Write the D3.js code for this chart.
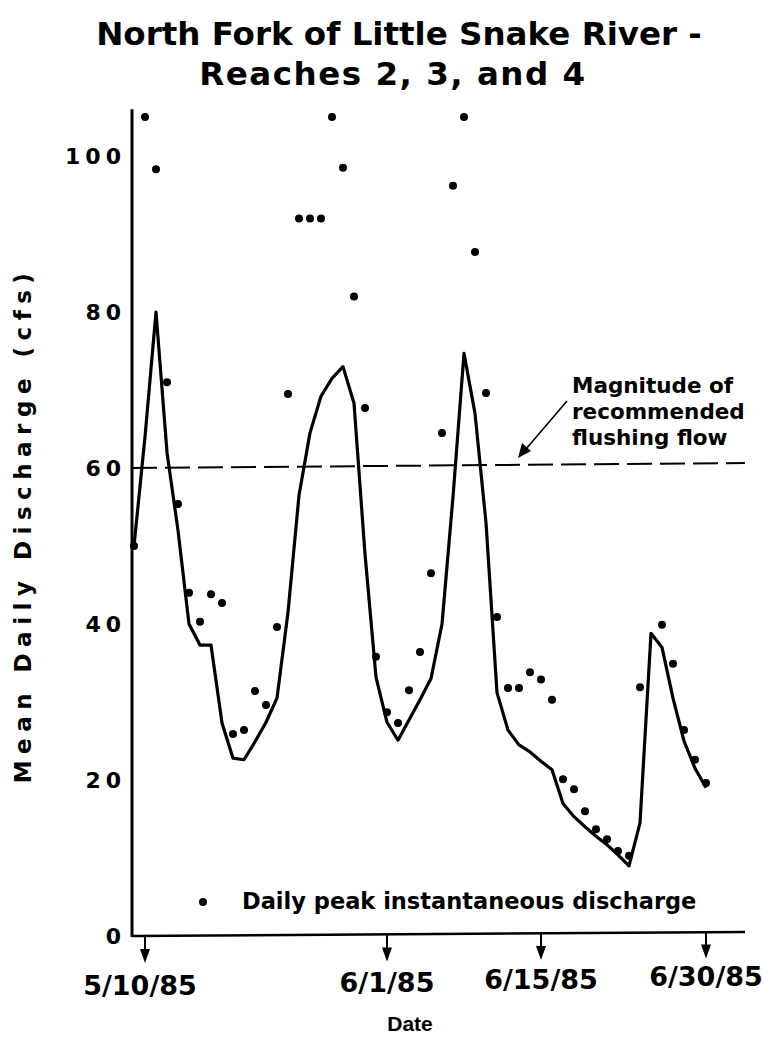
<!DOCTYPE html>
<html>
<head>
<meta charset="utf-8">
<script src="https://cdn.jsdelivr.net/npm/d3@7"></script>
<style>
  body { margin: 0; background: #fff; }
  text { font-family: "DejaVu Sans", "Liberation Sans", sans-serif; font-weight: bold; fill: #000; }
</style>
</head>
<body>
<svg id="chart" width="771" height="1046"></svg>
<script>
// days run from 5/9/85 to 6/30/85
const firstDay = new Date(1985, 4, 9),
    lastDay = new Date(1985, 5, 30);

// mean daily discharge (cfs), one per day
const meanFlow = [50, 64, 80, 62, 52, 40, 37.3, 37.3, 27.3, 22.8, 22.6, 24.9, 27.4, 30.5, 41.5,
    56.5, 64.5, 69.2, 71.5, 73, 68.3, 49, 33.2, 27.4, 25.1, 27.7, 30.3, 33, 40, 56.3, 74.7,
    67, 53, 31.2, 26.4, 24.5, 23.6, 22.4, 21.3, 17, 15.3, 14, 12.8, 11.7, 10.4, 9, 14.5,
    38.8, 37, 30.5, 25, 21.5, 19];

// daily peak instantaneous discharge (cfs), null where no dot
const peakFlow = [50, 105, 98.3, 71, 55.4, 44, 40.3, 43.8, 42.7, 25.9, 26.4, 31.4, 29.6, 39.6,
    69.5, 92, 92, 92, 105, 98.5, 82, 67.7, 35.8, 28.7, 27.3, 31.5, 36.4, 46.5, 64.5, 96.2,
    105, 87.7, 69.6, 40.9, 31.8, 31.8, 33.8, 32.9, 30.3, 20.1, 18.8, 16, 13.7, 12.4, 10.9,
    10.3, 31.9, null, 39.9, 34.9, 26.4, 22.6, 19.6];

const tickDates = [new Date(1985, 4, 10), new Date(1985, 5, 1), new Date(1985, 5, 15), new Date(1985, 5, 30)];
const tickLabels = ['5/10/85', '6/1/85', '6/15/85', '6/30/85'];
const yTicks = [0, 20, 40, 60, 80, 100];
const flushingFlow = 60;

const svg = d3.select('#chart');

let days = d3.timeDay.range(firstDay, d3.timeDay.offset(lastDay, 1));

let x = d3.scaleTime()
    .domain([tickDates[0], tickDates[3]])
    .range([145, 706]);

let y = d3.scaleLinear()
    .domain([0, 100])
    .range([936, 156]);

let left = 132, right = 745;

// Title
svg.append('text')
    .attr('x', 399).attr('y', 45)
    .attr('text-anchor', 'middle')
    .style('font-size', '32.5px')
    .text('North Fork of Little Snake River -');
svg.append('text')
    .attr('x', 393).attr('y', 85)
    .attr('text-anchor', 'middle')
    .style('font-size', '32.5px')
    .style('letter-spacing', '1.5px')
    .text('Reaches 2, 3, and 4');

// Axes
svg.append('line')
    .attr('x1', left).attr('x2', left)
    .attr('y1', y(106)).attr('y2', y(0) + 1)
    .attr('stroke', '#000').attr('stroke-width', 3);
svg.append('line')
    .attr('x1', left).attr('x2', right)
    .attr('y1', y(0)).attr('y2', y(0) - 4)
    .attr('stroke', '#000').attr('stroke-width', 2.5);

svg.append('g')
    .selectAll('text')
    .data(yTicks)
    .enter().append('text')
    .attr('x', 126)
    .attr('y', d => y(d) + 8)
    .attr('text-anchor', 'end')
    .style('font-size', '22px')
    .style('letter-spacing', '5px')
    .text(d => d);

svg.append('text')
    .attr('transform', 'translate(31,525) rotate(-90)')
    .attr('text-anchor', 'middle')
    .style('font-size', '23px')
    .style('letter-spacing', '6.5px')
    .text('Mean Daily Discharge (cfs)');

// Date arrows
let arrows = svg.append('g')
    .selectAll('g')
    .data(tickDates)
    .enter().append('g')
    .attr('transform', (d, i) => 'translate(' + x(d) + ',' + (y(0) - i * 1.5) + ')');

arrows.append('line')
    .attr('y1', 0).attr('y2', 15)
    .attr('stroke', '#000').attr('stroke-width', 2);
arrows.append('path')
    .attr('d', 'M-5,13 L5,13 L0,27 Z')
    .attr('fill', '#000');
arrows.append('text')
    .attr('x', (d, i) => i ? 0 : -5)
    .attr('y', (d, i) => 59 - i * 1.5)
    .attr('text-anchor', 'middle')
    .style('font-size', '27px')
    .text((d, i) => tickLabels[i]);

svg.append('text')
    .attr('x', 410).attr('y', 1031)
    .attr('text-anchor', 'middle')
    .style('font-family', '"Liberation Sans", Arial, sans-serif')
    .style('font-size', '21px')
    .text('Date');

// Flushing flow line
svg.append('line')
    .attr('x1', left).attr('x2', right)
    .attr('y1', y(flushingFlow)).attr('y2', y(flushingFlow) - 5)
    .attr('stroke', '#000').attr('stroke-width', 2)
    .attr('stroke-dasharray', '25,8');

let note = svg.append('text')
    .attr('x', 572).attr('y', 393)
    .style('font-size', '21.5px');
['Magnitude of', 'recommended', 'flushing flow'].forEach((t, i) => {
    note.append('tspan').attr('x', 572).attr('dy', i ? 26 : 0).text(t);
});

svg.append('line')
    .attr('x1', 567).attr('y1', 401)
    .attr('x2', 526).attr('y2', 449)
    .attr('stroke', '#000').attr('stroke-width', 1.6);
svg.append('path')
    .attr('d', 'M518,458 L522,443 L531,451 Z')
    .attr('fill', '#000');

// Mean daily line
let line = d3.line()
    .x((d, i) => x(days[i]))
    .y(d => y(d));

svg.append('path')
    .datum(meanFlow)
    .attr('d', line)
    .attr('fill', 'none')
    .attr('stroke', '#000')
    .attr('stroke-width', 3.2)
    .attr('stroke-linejoin', 'round');

// Peak dots
svg.append('g')
    .selectAll('circle')
    .data(peakFlow.map((v, i) => ({ date: days[i], value: v })).filter(d => d.value !== null))
    .enter().append('circle')
    .attr('cx', d => x(d.date))
    .attr('cy', d => y(d.value))
    .attr('r', 4)
    .attr('fill', '#000');

// Legend
svg.append('circle')
    .attr('cx', 203).attr('cy', 902).attr('r', 4).attr('fill', '#000');
svg.append('text')
    .attr('x', 242).attr('y', 909)
    .style('font-size', '22.5px')
    .text('Daily peak instantaneous discharge');
</script>
</body>
</html>
